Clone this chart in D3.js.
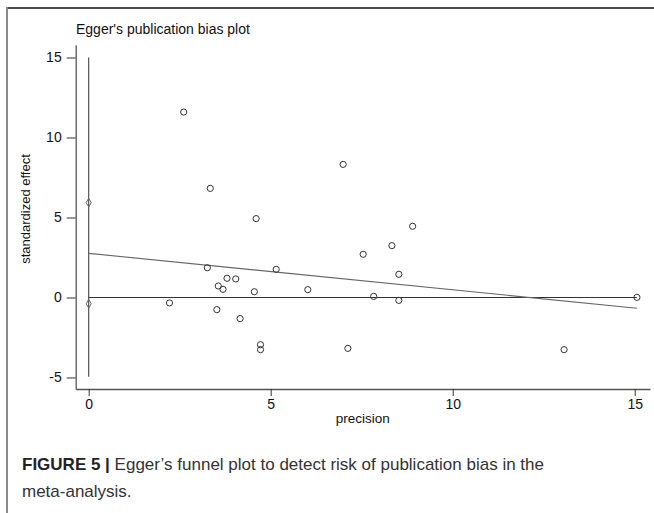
<!DOCTYPE html>
<html>
<head>
<meta charset="utf-8">
<script src="https://cdn.jsdelivr.net/npm/d3@7"></script>
<style>
  html, body { margin: 0; padding: 0; background: #fff; }
  svg { display: block; }
</style>
</head>
<body>
<svg id="chart" width="654" height="513"></svg>
<script>
// ---- data ----
const precision = [2.61, 3.34, 4.60, 3.26, 3.56, 3.69, 3.80, 4.04, 4.55, 2.22, 3.52, 4.16,
                   6.99, 8.90, 8.33, 7.54, 5.15, 8.52, 6.02, 7.83, 8.52, 4.72, 4.72, 7.12,
                   15.06, 13.06];
const stdEffect = [11.59, 6.82, 4.93, 1.86, 0.72, 0.51, 1.20, 1.16, 0.36, -0.34, -0.76, -1.32,
                   8.32, 4.45, 3.24, 2.70, 1.76, 1.45, 0.49, 0.07, -0.18, -2.95, -3.26, -3.18,
                   0.01, -3.26];
const axisPointsX = [0, 0];
const axisPointsY = [5.93, -0.39];
const ciRange = [-4.95, 15];          // vertical line at precision 0
const fitIntercept = 2.76;
const fitSlope = -0.228;
const fitXRange = [0, 15.06];
const zeroXRange = [0, 15.06];
const xTicks = [0, 5, 10, 15];
const yTicks = [-5, 0, 5, 10, 15];
const titleText = "Egger's publication bias plot";
const xLabel = "precision";
const yLabel = "standardized effect";
const captionBold = "FIGURE 5 |";
const captionLine1 = " Egger\u2019s funnel plot to detect risk of publication bias in the";
const captionLine2 = "meta-analysis.";

// ---- drawing ----
const svg = d3.select("#chart");
const font = "'Liberation Sans', Arial, Helvetica, sans-serif";
const fmt = d => String(d);  // plain hyphen minus as in the reference

// frame
svg.append("line").attr("x1", 7).attr("x2", 654).attr("y1", 8).attr("y2", 8)
  .attr("stroke", "#4a4a4a").attr("stroke-width", 2);
svg.append("line").attr("x1", 7).attr("x2", 7).attr("y1", 7).attr("y2", 513)
  .attr("stroke", "#8a8a8a").attr("stroke-width", 2);

const x = d3.scaleLinear().domain([-0.357, 15.42]).range([75.7, 650]);
const y = d3.scaleLinear().domain([-5.72, 15.8]).range([389, 44.7]);

// axes
const xAxis = d3.axisBottom(x).tickValues(xTicks).tickFormat(fmt).tickSize(7).tickPadding(3).tickSizeOuter(0);
const yAxis = d3.axisLeft(y).tickValues(yTicks).tickFormat(fmt).tickSize(9).tickPadding(5).tickSizeOuter(0);

const gx = svg.append("g").attr("transform", `translate(0,${y.range()[0]})`).call(xAxis);
const gy = svg.append("g").attr("transform", `translate(${x.range()[0]},0)`).call(yAxis);
[gx, gy].forEach(g => {
  g.select(".domain").attr("stroke", "#555").attr("stroke-width", 1.3);
  g.selectAll(".tick line").attr("stroke", "#333").attr("stroke-width", 1);
  g.selectAll(".tick text").attr("fill", "#111").style("font-family", font).style("font-size", "14px");
});

// CI vertical line at 0
svg.append("line")
  .attr("x1", x(0)).attr("x2", x(0))
  .attr("y1", y(ciRange[0])).attr("y2", y(ciRange[1]))
  .attr("stroke", "#444").attr("stroke-width", 1.1);

// zero line
svg.append("line")
  .attr("x1", x(zeroXRange[0])).attr("x2", x(zeroXRange[1]))
  .attr("y1", y(0)).attr("y2", y(0))
  .attr("stroke", "#333").attr("stroke-width", 1.1);

// regression line
svg.append("line")
  .attr("x1", x(fitXRange[0])).attr("x2", x(fitXRange[1]))
  .attr("y1", y(fitIntercept + fitSlope * fitXRange[0]))
  .attr("y2", y(fitIntercept + fitSlope * fitXRange[1]))
  .attr("stroke", "#666").attr("stroke-width", 1.1);

// small diamonds at precision 0
svg.append("g").selectAll("path").data(axisPointsY).join("path")
  .attr("d", d3.symbol(d3.symbolDiamond, 22)())
  .attr("transform", (d, i) => `translate(${x(axisPointsX[i])},${y(d)})`)
  .attr("fill", "none").attr("stroke", "#666").attr("stroke-width", 1);

// study circles
svg.append("g").selectAll("circle").data(precision).join("circle")
  .attr("cx", d => x(d))
  .attr("cy", (d, i) => y(stdEffect[i]))
  .attr("r", 3.1)
  .attr("fill", "none").attr("stroke", "#333").attr("stroke-width", 1);

// title
svg.append("text").attr("x", 76).attr("y", 34).text(titleText)
  .style("font-family", font).style("font-size", "14px").attr("fill", "#111");

// x label
svg.append("text").attr("x", (x.range()[0] + x.range()[1]) / 2).attr("y", 423)
  .attr("text-anchor", "middle").text(xLabel)
  .style("font-family", font).style("font-size", "13.5px").attr("fill", "#111");

// y label
svg.append("text")
  .attr("transform", `translate(30,209) rotate(-90)`)
  .attr("text-anchor", "middle").text(yLabel)
  .style("font-family", font).style("font-size", "13px").attr("fill", "#111");

// caption
const cap = svg.append("text").attr("x", 22).attr("y", 470)
  .style("font-family", font).style("font-size", "17px").attr("fill", "#333");
cap.append("tspan").attr("font-weight", "bold").attr("fill", "#222").text(captionBold);
cap.append("tspan").text(captionLine1);
svg.append("text").attr("x", 22).attr("y", 497).text(captionLine2)
  .style("font-family", font).style("font-size", "17px").attr("fill", "#333");
</script>
</body>
</html>
